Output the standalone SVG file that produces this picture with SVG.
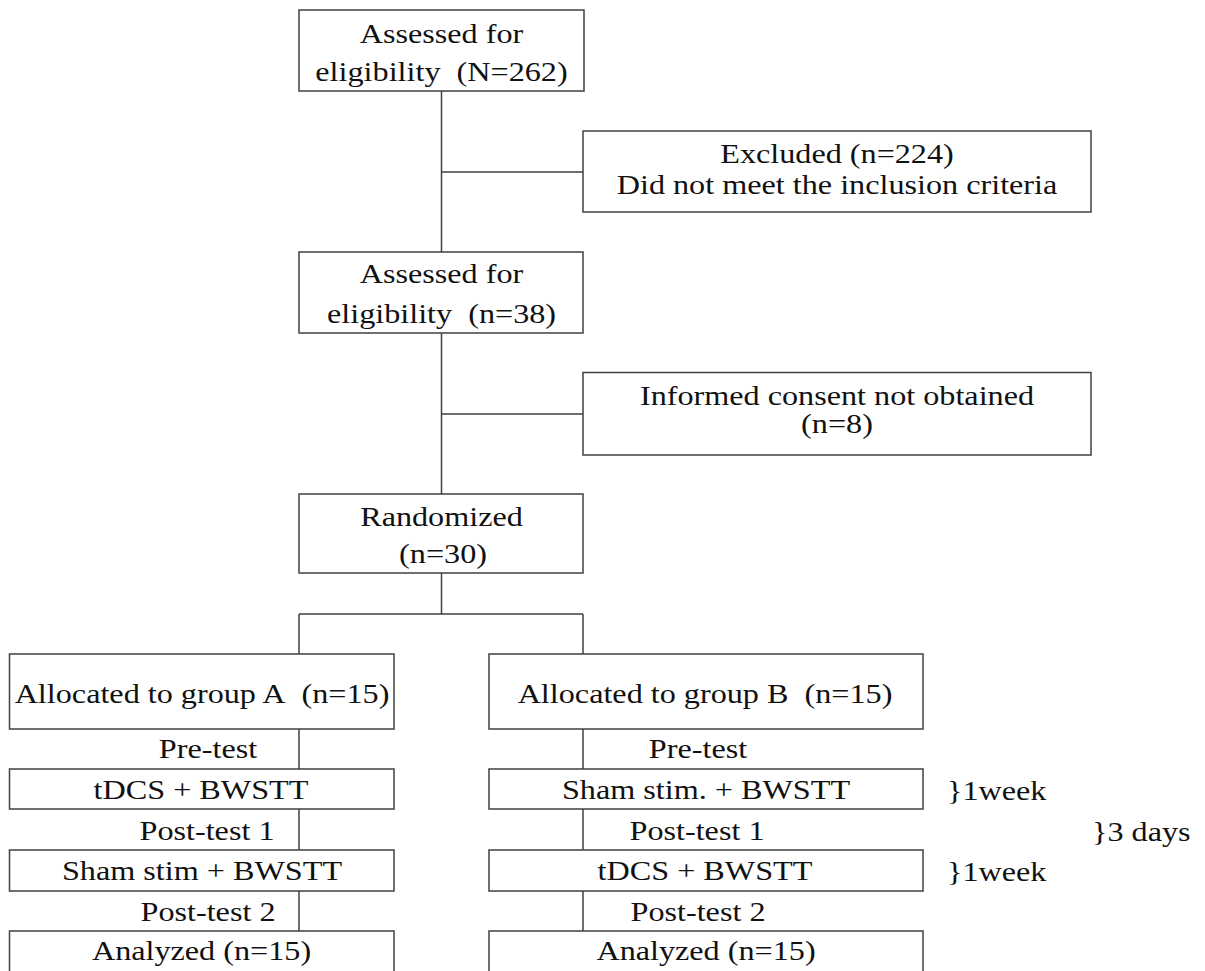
<svg xmlns="http://www.w3.org/2000/svg" width="1205" height="971" viewBox="0 0 1205 971">
<style>
.box{fill:#fff;stroke:#404040;stroke-width:1.5}
.ln{fill:none;stroke:#404040;stroke-width:1.5}
text{font-family:"Liberation Serif","Times New Roman",serif;font-size:28px;fill:#111}
.c{text-anchor:middle}
</style>
<rect width="1205" height="971" fill="#fff"/>
<g id="connectors">
<path class="ln" d="M441.5 91V252M441.5 172H583M441.5 333V494M441.5 414H583M441.5 573V614M299 614H583M299 614V654M583 614V654"/>
<path class="ln" d="M299 729V769M299 809V850M299 891V931M583 729V769M583 809V850M583 891V931"/>
</g>
<g id="n1">
<rect class="box" x="299" y="10" width="285" height="81"/>
<text class="c" transform="matrix(1.15 0 0 1 441.5 43)">Assessed for</text>
<text class="c" transform="matrix(1.15 0 0 1 441.5 81)">eligibility&#160; (N=262)</text>
</g>
<g id="n_excluded">
<rect class="box" x="583" y="131" width="508" height="81"/>
<text class="c" transform="matrix(1.15 0 0 1 837 163)">Excluded (n=224)</text>
<text class="c" transform="matrix(1.15 0 0 1 837 194)">Did not meet the inclusion criteria</text>
</g>
<g id="n2">
<rect class="box" x="299" y="252" width="284" height="81"/>
<text class="c" transform="matrix(1.15 0 0 1 441.5 283)">Assessed for</text>
<text class="c" transform="matrix(1.15 0 0 1 441.5 322.5)">eligibility&#160; (n=38)</text>
</g>
<g id="n_consent">
<rect class="box" x="583" y="372.5" width="508" height="82.5"/>
<text class="c" transform="matrix(1.15 0 0 1 837 405)">Informed consent not obtained</text>
<text class="c" transform="matrix(1.15 0 0 1 837 433)">(n=8)</text>
</g>
<g id="n_random">
<rect class="box" x="299" y="494" width="284" height="79"/>
<text class="c" transform="matrix(1.15 0 0 1 441.5 525.5)">Randomized</text>
<text class="c" transform="matrix(1.15 0 0 1 443 563)">(n=30)</text>
</g>
<g id="groupA">
<rect class="box" x="9.5" y="654" width="384.5" height="75"/>
<text class="c" transform="matrix(1.15 0 0 1 202 702.5)">Allocated to group A&#160; (n=15)</text>
<text class="c" transform="matrix(1.15 0 0 1 208 758)">Pre-test</text>
<rect class="box" x="9.5" y="769" width="384.5" height="40"/>
<text class="c" transform="matrix(1.15 0 0 1 201 799)">tDCS + BWSTT</text>
<text class="c" transform="matrix(1.15 0 0 1 207 840)">Post-test 1</text>
<rect class="box" x="9.5" y="850" width="384.5" height="41"/>
<text class="c" transform="matrix(1.15 0 0 1 202 880)">Sham stim + BWSTT</text>
<text class="c" transform="matrix(1.15 0 0 1 208 920.5)">Post-test 2</text>
<rect class="box" x="9.5" y="931" width="384.5" height="42"/>
<text class="c" transform="matrix(1.15 0 0 1 201.5 960)">Analyzed (n=15)</text>
</g>
<g id="groupB">
<rect class="box" x="489" y="654" width="434" height="75"/>
<text class="c" transform="matrix(1.15 0 0 1 705 702.5)">Allocated to group B&#160; (n=15)</text>
<text class="c" transform="matrix(1.15 0 0 1 698 758)">Pre-test</text>
<rect class="box" x="489" y="769" width="434" height="40"/>
<text class="c" transform="matrix(1.15 0 0 1 706 799)">Sham stim. + BWSTT</text>
<text class="c" transform="matrix(1.15 0 0 1 697 840)">Post-test 1</text>
<rect class="box" x="489" y="850" width="434" height="41"/>
<text class="c" transform="matrix(1.15 0 0 1 705 880)">tDCS + BWSTT</text>
<text class="c" transform="matrix(1.15 0 0 1 698 920.5)">Post-test 2</text>
<rect class="box" x="489" y="931" width="434" height="42"/>
<text class="c" transform="matrix(1.15 0 0 1 706 960)">Analyzed (n=15)</text>
</g>
<g id="durations">
<text transform="matrix(1.15 0 0 1 947 800)">}1week</text>
<text transform="matrix(1.15 0 0 1 1092 840.5)">}3 days</text>
<text transform="matrix(1.15 0 0 1 947 880.5)">}1week</text>
</g>
</svg>
